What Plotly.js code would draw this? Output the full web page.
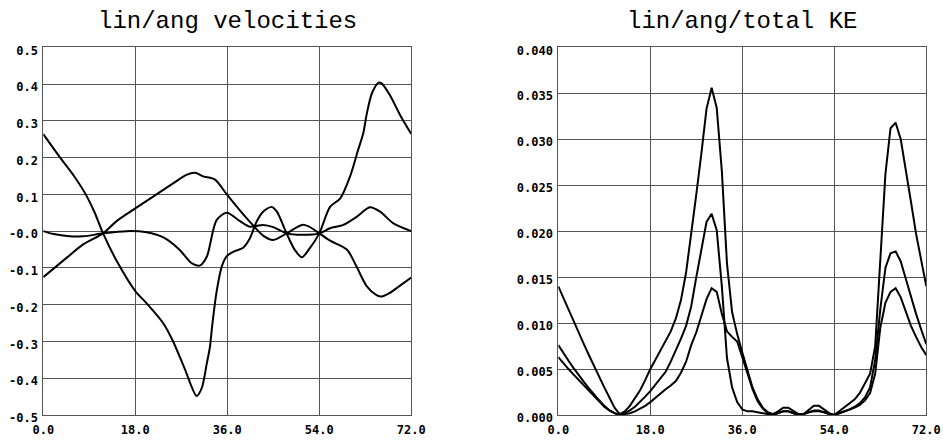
<!DOCTYPE html>
<html>
<head>
<meta charset="utf-8">
<script src="https://cdn.plot.ly/plotly-3.0.1.min.js"></script>
<style>
  html, body { margin: 0; padding: 0; background: #fff; }
  #chart { width: 943px; height: 440px; }
</style>
</head>
<body>
<div id="chart"></div>
<script>
// ---------- left panel: lin/ang velocities ----------
const velAx = [0, 3.3, 6, 8.3, 10, 11.7, 14.4, 18, 20.2, 23.5, 25.4, 27.7, 30, 31, 32, 32.6, 33.1, 33.9, 34.9, 35.9, 37.2, 39.1, 40.4, 41.7, 43, 44.7, 45.7, 47.6, 49.2, 50.6, 51.9, 54, 56.1, 58.1, 60, 61.6, 62.6, 63.3, 64.3, 65.6, 66.2, 67.8, 69.8, 72];
const velA  = [0.264, 0.200, 0.150, 0.100, 0.052, -0.006, -0.082, -0.163, -0.196, -0.251, -0.300, -0.375, -0.448, -0.427, -0.359, -0.315, -0.250, -0.165, -0.097, -0.068, -0.056, -0.045, -0.020, 0.025, 0.053, 0.066, 0.053, -0.006, -0.051, -0.071, -0.051, -0.006, 0.066, 0.089, 0.148, 0.221, 0.266, 0.320, 0.375, 0.404, 0.402, 0.370, 0.316, 0.264];

const velBx = [0, 4.6, 7.8, 11.7, 14.4, 18, 21.5, 25.4, 28, 29.7, 31.3, 33.6, 35.9, 38.5, 41.1, 43, 45, 47.6, 50.6, 51.9, 54, 56.1, 59.4, 61.3, 63.3, 65.2, 66.2, 67.8, 69.8, 72];
const velB  = [-0.125, -0.072, -0.036, -0.006, 0.028, 0.062, 0.094, 0.130, 0.153, 0.159, 0.149, 0.140, 0.100, 0.056, 0.015, -0.012, -0.024, -0.006, 0.017, 0.013, -0.006, -0.026, -0.050, -0.097, -0.150, -0.174, -0.178, -0.168, -0.148, -0.126];

const velCx = [0, 2, 4.6, 7.8, 11.7, 16.3, 20.2, 23.5, 26.7, 29, 30.7, 32, 33.9, 35.9, 38.5, 40.4, 43, 45, 47.6, 50.6, 54, 56.1, 58.7, 61.3, 63.9, 65.9, 68.5, 72];
const velC  = [0.000, -0.008, -0.013, -0.014, -0.006, 0.000, -0.003, -0.017, -0.051, -0.087, -0.093, -0.069, 0.030, 0.050, 0.027, 0.012, 0.017, 0.011, -0.006, -0.010, -0.006, 0.008, 0.017, 0.039, 0.065, 0.053, 0.021, 0.000];

const velTickVals = [-0.5, -0.4, -0.3, -0.2, -0.1, 0.0, 0.1, 0.2, 0.3, 0.4, 0.5];
const velTickText = ['-0.5', '-0.4', '-0.3', '-0.2', '-0.1', '-0.0', '0.1', '0.2', '0.3', '0.4', '0.5'];

// ---------- right panel: lin/ang/total KE ----------
const keX = [0,1,2,3,4,5,6,7,8,9,10,11,12,13,14,15,16,17,18,19,20,21,22,23,24,25,26,27,28,29,30,31,32,33,34,35,36,37,38,39,40,41,42,43,44,45,46,47,48,49,50,51,52,53,54,55,56,57,58,59,60,61,62,63,64,65,66,67,68,69,70,71,72];
const keTotal = [0.0140,0.0127,0.0114,0.0101,0.0089,0.0077,0.0065,0.0053,0.0041,0.0030,0.0019,0.0008,0.0001,0.0004,0.0010,0.0018,0.0027,0.0038,0.0050,0.0060,0.0070,0.0080,0.0091,0.0105,0.0125,0.0155,0.0195,0.0240,0.0285,0.0333,0.0356,0.0334,0.0265,0.0165,0.0112,0.0088,0.0068,0.0048,0.0030,0.0017,0.0008,0.0003,0.0001,0.0004,0.0008,0.0008,0.0004,0.0001,0.0001,0.0005,0.0010,0.0010,0.0006,0.0002,0.0000,0.0004,0.0008,0.0012,0.0017,0.0024,0.0034,0.0045,0.0075,0.0165,0.0262,0.0312,0.0318,0.0300,0.0268,0.0232,0.0197,0.0168,0.0140];
const keLin = [0.0076,0.0067,0.0059,0.0051,0.0043,0.0036,0.0029,0.0022,0.0016,0.0010,0.0005,0.0002,0.0000,0.0002,0.0005,0.0009,0.0014,0.0020,0.0026,0.0033,0.0040,0.0047,0.0058,0.0070,0.0083,0.0097,0.0118,0.0150,0.0182,0.0210,0.0219,0.0201,0.0140,0.0062,0.0030,0.0014,0.0006,0.0004,0.0004,0.0003,0.0002,0.0001,0.0000,0.0002,0.0004,0.0004,0.0002,0.0000,0.0001,0.0003,0.0005,0.0005,0.0003,0.0001,0.0000,0.0002,0.0004,0.0006,0.0009,0.0013,0.0019,0.0030,0.0060,0.0115,0.0160,0.0176,0.0178,0.0167,0.0148,0.0128,0.0110,0.0093,0.0077];
const keAng = [0.0063,0.0056,0.0050,0.0044,0.0038,0.0032,0.0026,0.0020,0.0014,0.0009,0.0005,0.0002,0.0000,0.0001,0.0002,0.0004,0.0007,0.0010,0.0014,0.0019,0.0024,0.0028,0.0032,0.0037,0.0046,0.0058,0.0076,0.0090,0.0108,0.0126,0.0138,0.0134,0.0110,0.0091,0.0085,0.0080,0.0063,0.0045,0.0028,0.0015,0.0007,0.0002,0.0001,0.0002,0.0004,0.0004,0.0002,0.0000,0.0001,0.0003,0.0004,0.0004,0.0003,0.0001,0.0000,0.0002,0.0004,0.0006,0.0008,0.0011,0.0016,0.0024,0.0045,0.0095,0.0122,0.0134,0.0138,0.0128,0.0112,0.0097,0.0085,0.0074,0.0065];

const keTickVals = [0, 0.005, 0.010, 0.015, 0.020, 0.025, 0.030, 0.035, 0.040];
const keTickText = ['0.000', '0.005', '0.010', '0.015', '0.020', '0.025', '0.030', '0.035', '0.040'];

const xTickVals = [0, 18, 36, 54, 72];
const xTickText = ['0.0', '18.0', '36.0', '54.0', '72.0'];

const titles = ['lin/ang velocities', 'lin/ang/total KE'];

// ---------- styling ----------
const lineStyle = {color: '#000', width: 2};
const tickFont = {family: 'DejaVu Sans Mono', size: 12, color: '#000', weight: 'bold'};
const gridCol = '#555';

function smoothTrace(x, y) {
  return {x: x, y: y, xaxis: 'x', yaxis: 'y', mode: 'lines', type: 'scatter',
          line: Object.assign({shape: 'spline', smoothing: 0.8}, lineStyle), hoverinfo: 'skip'};
}
function keTrace(y) {
  return {x: keX, y: y, xaxis: 'x2', yaxis: 'y2', mode: 'lines', type: 'scatter',
          line: Object.assign({shape: 'linear'}, lineStyle), hoverinfo: 'skip'};
}

const data = [
  smoothTrace(velAx, velA),
  smoothTrace(velBx, velB),
  smoothTrace(velCx, velC),
  keTrace(keTotal),
  keTrace(keLin),
  keTrace(keAng)
];

function xAxis(domain) {
  return {domain: domain, range: [0, 72], tickvals: xTickVals, ticktext: xTickText,
          showgrid: true, gridcolor: gridCol, gridwidth: 1, zeroline: false,
          showline: true, mirror: true, linecolor: gridCol, linewidth: 1,
          ticks: '', ticklabelstandoff: 4, tickfont: tickFont, fixedrange: true};
}
function yAxis(range, vals, text, anchor) {
  return {domain: [0.0568, 0.8925], range: range, tickvals: vals, ticktext: text, anchor: anchor,
          showgrid: true, gridcolor: gridCol, gridwidth: 1, zeroline: false,
          showline: true, mirror: true, linecolor: gridCol, linewidth: 1,
          ticks: '', ticklabelstandoff: 2, ticklabelshift: 3, tickfont: tickFont, fixedrange: true};
}

const leftDom = [43.3 / 943, 411.3 / 943];
const rightDom = [558.3 / 943, 926.3 / 943];

const layout = {
  width: 943, height: 440,
  margin: {l: 0, r: 0, t: 0, b: 0},
  paper_bgcolor: '#fff', plot_bgcolor: '#fff',
  showlegend: false,
  xaxis: Object.assign(xAxis(leftDom), {anchor: 'y'}),
  yaxis: yAxis([-0.5, 0.5], velTickVals, velTickText, 'x'),
  xaxis2: Object.assign(xAxis(rightDom), {anchor: 'y2'}),
  yaxis2: yAxis([0, 0.040], keTickVals, keTickText, 'x2'),
  annotations: [
    {text: titles[0], xref: 'paper', yref: 'paper', x: (leftDom[0] + leftDom[1]) / 2, y: 1 - 21 / 440,
     xanchor: 'center', yanchor: 'middle', showarrow: false,
     font: {family: 'Liberation Mono', size: 24, color: '#000'}},
    {text: titles[1], xref: 'paper', yref: 'paper', x: (rightDom[0] + rightDom[1]) / 2, y: 1 - 21 / 440,
     xanchor: 'center', yanchor: 'middle', showarrow: false,
     font: {family: 'Liberation Mono', size: 24, color: '#000'}}
  ]
};

Plotly.newPlot('chart', data, layout, {staticPlot: true, displayModeBar: false});
</script>
</body>
</html>
